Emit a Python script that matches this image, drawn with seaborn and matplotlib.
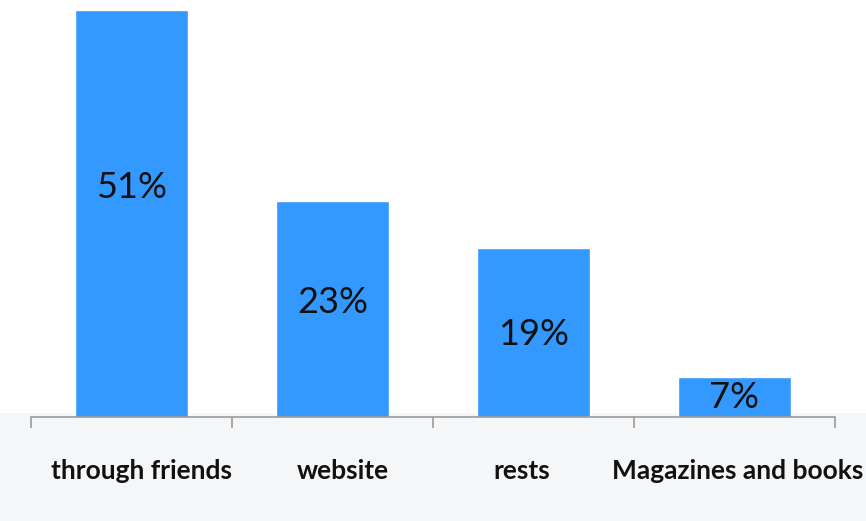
import matplotlib
matplotlib.use("Agg")
import matplotlib.pyplot as plt
import matplotlib.transforms as mtransforms
import seaborn as sns
import pandas as pd
from matplotlib.patches import Rectangle

categories = ["through friends", "website", "rests", "Magazines and books"]
pct_labels = ["51%", "23%", "19%", "7%"]
# bar heights as drawn in the reference (scaled so the first bar = 51)
bar_heights = [51, 27.1, 21.2, 5.0]

df = pd.DataFrame({"cat": categories, "h": bar_heights})

sns.set_theme(style="white")
plt.rcParams["font.family"] = ["Lato", "DejaVu Sans"]

fig = plt.figure(figsize=(8.66, 5.21), dpi=100)
fig.patch.set_facecolor("white")
# light grey band at the bottom
fig.add_artist(Rectangle((0, 0), 1, 0.207, transform=fig.transFigure,
                         facecolor="#F5F6F8", edgecolor="none", zorder=0))

ax = fig.add_axes([0.0358, 0.1996, 0.9284, 0.8004])
ax.set_facecolor("none")
sns.barplot(data=df, x="cat", y="h", color="#3399FF", saturation=1,
            width=0.56, ax=ax)
ax.set_xlim(-0.5, 3.5)
ax.set_ylim(0, 52.25)

label_frac = [0.565, 0.53, 0.49, 0.48]
for i, (p, h) in enumerate(zip(pct_labels, bar_heights)):
    ax.text(i, h * label_frac[i], p, ha="center", va="center",
            fontsize=26, color="#111111", family=["Lato", "DejaVu Sans"])

for s in ["top", "right", "left"]:
    ax.spines[s].set_visible(False)
ax.spines["bottom"].set_color("#9a9a9a")
ax.spines["bottom"].set_linewidth(1.2)
ax.set_yticks([])
ax.set_xticks(range(len(categories)))
ax.set_xticklabels(categories, fontsize=19, fontweight="bold", color="#111111")
ax.set_xticks([-0.5, 0.5, 1.5, 2.5, 3.5], minor=True)
ax.tick_params(axis="x", which="major", length=0, pad=30)
ax.tick_params(axis="x", which="minor", length=8, width=1.2, color="#9a9a9a",
               direction="out", bottom=True)
ax.set_xlabel("")
ax.set_ylabel("")

# small horizontal shifts of the category labels, as in the reference
shifts_px = [10, 10, -12, 3]
for lab, dx in zip(ax.get_xticklabels(), shifts_px):
    lab.set_transform(lab.get_transform() +
                      mtransforms.ScaledTranslation(dx / 100, 0, fig.dpi_scale_trans))

fig.savefig("out.png", dpi=100)
